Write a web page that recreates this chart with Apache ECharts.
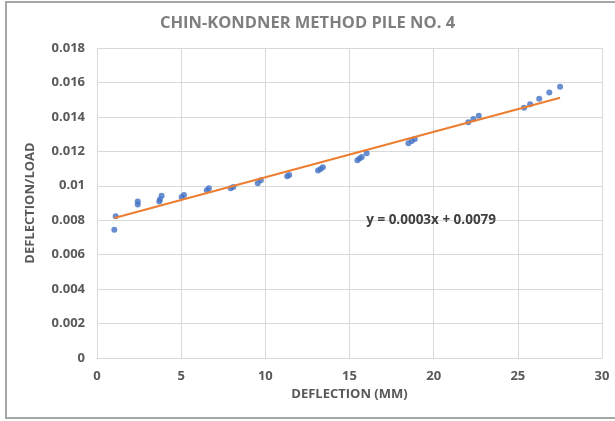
<!DOCTYPE html>
<html>
<head>
<meta charset="utf-8">
<script src="https://cdn.jsdelivr.net/npm/echarts@6/dist/echarts.min.js"></script>
<style>
  html, body { margin: 0; padding: 0; background: #ffffff; }
  #chart { width: 615px; height: 421px; }
</style>
</head>
<body>
<div id="chart"></div>
<script>
// Pile load test: deflection (mm) vs deflection/load ratio
const deflection = [
  1.03, 1.11, 2.42, 2.42, 3.70, 3.74, 3.84, 5.03, 5.17, 6.52, 6.65, 7.94, 8.10,
  9.55, 9.73, 11.30, 11.42, 13.13, 13.28, 13.42, 15.47, 15.60, 15.73, 16.02,
  18.50, 18.70, 18.88, 22.06, 22.36, 22.68, 25.37, 25.73, 26.27, 26.87, 27.51
];
const deflectionPerLoad = [
  0.00745, 0.00823, 0.00892, 0.00908, 0.00908, 0.00921, 0.00942, 0.00935, 0.00946,
  0.00974, 0.00985, 0.00985, 0.00993, 0.01014, 0.01032, 0.01055, 0.01062, 0.01088,
  0.01098, 0.01108, 0.01148, 0.01158, 0.01167, 0.01189, 0.01247, 0.01260, 0.01272,
  0.01369, 0.01388, 0.01407, 0.01453, 0.01473, 0.01506, 0.01541, 0.01575
];
const xTicks = [0, 5, 10, 15, 20, 25, 30];
const yTicks = [0, 0.002, 0.004, 0.006, 0.008, 0.01, 0.012, 0.014, 0.016, 0.018];

// Least-squares linear fit
const n = deflection.length;
let sx = 0, sy = 0, sxx = 0, sxy = 0;
for (let i = 0; i < n; i++) {
  sx += deflection[i]; sy += deflectionPerLoad[i];
  sxx += deflection[i] * deflection[i]; sxy += deflection[i] * deflectionPerLoad[i];
}
const slope = (n * sxy - sx * sy) / (n * sxx - sx * sx);
const intercept = (sy - slope * sx) / n;
const xMin = Math.min(...deflection), xMax = Math.max(...deflection);
const trend = [[xMin, intercept + slope * xMin], [xMax, intercept + slope * xMax]];
const eqText = 'y = ' + slope.toFixed(4) + 'x + ' + intercept.toFixed(4);

const points = deflection.map((x, i) => [x, deflectionPerLoad[i]]);
const font = '"Open Sans", "Liberation Sans", sans-serif';
const textColor = '#595959';

const chart = echarts.init(document.getElementById('chart'), null, { renderer: 'canvas' });
chart.setOption({
  animation: false,
  backgroundColor: '#ffffff',
  title: {
    text: 'CHIN-KONDNER METHOD PILE NO. 4',
    left: 'center',
    top: 10,
    textStyle: { fontFamily: font, fontSize: 16.5, fontWeight: 'bold', color: '#7f7f7f' }
  },
  grid: { left: 97, right: 13, top: 48, bottom: 63 },
  xAxis: {
    type: 'value',
    min: xTicks[0], max: xTicks[xTicks.length - 1], interval: xTicks[1] - xTicks[0],
    name: 'DEFLECTION (MM)',
    nameLocation: 'middle',
    nameGap: 30,
    nameTextStyle: { fontFamily: font, fontSize: 13, fontWeight: 'bold', color: textColor },
    axisLine: { show: true, lineStyle: { color: '#d9d9d9' } },
    axisTick: { show: false },
    axisLabel: { fontFamily: font, fontSize: 13, fontWeight: 'bold', color: textColor, margin: 12 },
    splitLine: { show: true, lineStyle: { color: '#d9d9d9', width: 1 } }
  },
  yAxis: {
    type: 'value',
    min: yTicks[0], max: yTicks[yTicks.length - 1], interval: yTicks[1] - yTicks[0],
    name: 'DEFLECTION/LOAD',
    nameLocation: 'middle',
    nameGap: 60,
    nameTextStyle: { fontFamily: font, fontSize: 13, fontWeight: 'bold', color: textColor },
    axisLine: { show: false },
    axisTick: { show: false },
    axisLabel: {
      fontFamily: font, fontSize: 13, fontWeight: 'bold', color: textColor, margin: 12,
      formatter: v => String(+v.toFixed(3))
    },
    splitLine: { show: true, lineStyle: { color: '#d9d9d9', width: 1 } }
  },
  graphic: [{
    type: 'rect',
    shape: { x: 6, y: 2, width: 640, height: 416 },
    style: { fill: 'none', stroke: '#a6a6a6', lineWidth: 2 },
    silent: true
  }],
  series: [
    {
      type: 'scatter',
      data: points,
      symbol: 'circle',
      symbolSize: 6,
      itemStyle: { color: '#4472c4' },
      z: 3
    },
    {
      type: 'line',
      data: trend,
      symbol: 'none',
      lineStyle: { color: '#ed7d31', width: 2 },
      z: 4,
      markPoint: {
        symbol: 'circle',
        symbolSize: 0,
        data: [{ coord: [19.85, 0.0080] }],
        label: {
          show: true,
          position: 'inside',
          formatter: eqText,
          fontFamily: font, fontSize: 13.5, fontWeight: 'bold', color: '#404040'
        }
      }
    }
  ]
});
</script>
</body>
</html>
